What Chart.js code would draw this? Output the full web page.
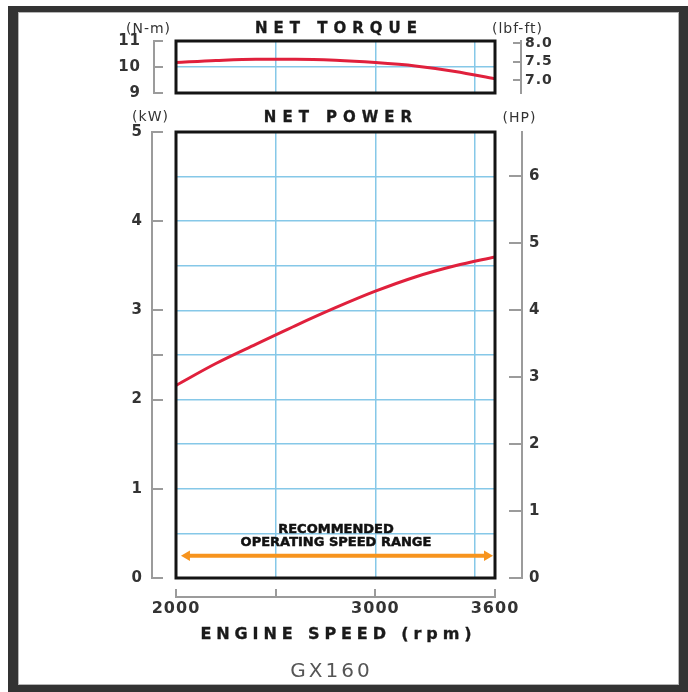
<!DOCTYPE html>
<html>
<head>
<meta charset="utf-8">
<script src="https://cdn.jsdelivr.net/npm/chart.js@4.4.1/dist/chart.umd.min.js"></script>
<style>
html,body{margin:0;padding:0;background:#fff;}
#wrap{position:relative;width:688px;height:692px;overflow:hidden;background:#fff;}
#frame{position:absolute;left:8px;top:6px;width:661px;height:673px;border-style:solid;border-color:#333;border-width:6px 9px 7px 10px;box-shadow:inset 0 0 0 1px #b5b5b5;}
canvas{position:absolute;left:0;top:0;}
.t{position:absolute;white-space:nowrap;transform:translate(-50%,-50%);font-family:'DejaVu Sans',sans-serif;color:#222;line-height:1;z-index:5;}
.title{font-weight:bold;font-size:15px;letter-spacing:6px;padding-left:6px;color:#1a1a1a;-webkit-text-stroke:0.35px #1a1a1a;}
.unit{font-size:14px;color:#333;letter-spacing:1px;padding-left:1px;}
.rec{font-weight:bold;font-size:13px;letter-spacing:0;color:#111;-webkit-text-stroke:0.5px #111;}
</style>
</head>
<body>
<div id="wrap">
  <div id="frame"></div>
  <canvas id="torque" width="688" height="692"></canvas>
  <canvas id="power" width="688" height="692"></canvas>
  <div class="t title" style="left:336px;top:28px;">NET TORQUE</div>
  <div class="t unit" style="left:148px;top:28px;">(N-m)</div>
  <div class="t unit" style="left:517px;top:28px;">(lbf-ft)</div>
  <div class="t title" style="left:338px;top:117px;">NET POWER</div>
  <div class="t unit" style="left:150px;top:116px;">(kW)</div>
  <div class="t unit" style="left:519px;top:117px;">(HP)</div>
  <div class="t rec" style="left:336px;top:528px;">RECOMMENDED</div>
  <div class="t rec" style="left:336px;top:541px;">OPERATING SPEED RANGE</div>
  <div class="t title" style="left:336px;top:634px;font-size:16px;letter-spacing:4.9px;padding-left:4.9px;">ENGINE SPEED (rpm)</div>
  <div class="t" style="left:330px;top:670px;font-size:20px;letter-spacing:3px;padding-left:3px;color:#555;">GX160</div>
</div>
<script>
// ---- data ----
const rpm = [2000, 2200, 2400, 2600, 2800, 3000, 3200, 3400, 3600];
const torqueNm = [10.17, 10.25, 10.30, 10.30, 10.26, 10.17, 10.04, 9.83, 9.55];
const powerKw = [2.16, 2.405, 2.62, 2.83, 3.03, 3.215, 3.375, 3.50, 3.60];
const rangeRpm = [2055, 3560];
const rangeKw = [0.25, 0.25];

const torqueNmTicks = [9, 10, 11];
const torqueNmGrid = [10];
const torqueLbfTicks = [7.0, 7.5, 8.0];
const torqueLbfRange = [6.646, 8.063];
const powerKwTicks = [0, 1, 2, 2.5, 3, 4, 5];
const powerKwLabels = ['0', '1', '2', '', '3', '4', '5'];
const powerKwGrid = [0, 0.5, 1, 1.5, 2, 2.5, 3, 3.5, 4, 4.5, 5];
const powerHpTicks = [0, 1, 2, 3, 4, 5, 6];
const powerHpRange = [0, 6.66];
const rpmTicks = [2000, 2500, 3000, 3600];
const rpmLabels = ['2000', '', '3000', '3600'];
const rpmGrid = [2000, 2500, 3000, 3500, 3600];

// ---- styling ----
const RED = '#e0203c';
const ORANGE = '#f7941e';
const BLUE = '#86c8e8';
const GRAY = '#9b9b9b';
const FONT = "'DejaVu Sans', sans-serif";

const plotBox = {
  id: 'plotBox',
  beforeDraw(chart) { chart.ctx.letterSpacing = '1px'; },
  afterDatasetsDraw(chart) {
    const {ctx, chartArea: a} = chart;
    ctx.save();
    ctx.strokeStyle = '#141414';
    ctx.lineWidth = 3;
    ctx.strokeRect(a.left, a.top, a.right - a.left, a.bottom - a.top);
    ctx.restore();
  }
};

const setTicks = vals => s => { s.ticks = vals.map(v => ({value: v})); };
const fixW = w => s => { s.width = w; };
const fixH = h => s => { s.height = h; };
const edgeTransparent = (lo, hi) => c => (c.tick && (c.tick.value === lo || c.tick.value === hi)) ? 'rgba(0,0,0,0)' : BLUE;

function innerGrid(min, max, pos, ticks, size, transparentEdges) {
  return {
    type: 'linear', position: pos, min, max, weight: 0,
    afterBuildTicks: setTicks(ticks),
    afterFit: (pos === 'left' || pos === 'right') ? fixW(size) : fixH(size),
    ticks: {display: false},
    grid: {color: transparentEdges ? edgeTransparent(min, max) : BLUE, lineWidth: 1.5, drawTicks: false},
    border: {display: false}
  };
}
function spacer(min, max, pos, size) {
  return {
    type: 'linear', position: pos, min, max, weight: 0,
    afterFit: (pos === 'left' || pos === 'right') ? fixW(size) : fixH(size),
    ticks: {display: false}, grid: {display: false}, border: {display: false}
  };
}
function outerAxis(min, max, pos, ticks, labels, tickLen, pad, size, fontSize) {
  return {
    type: 'linear', position: pos, min, max, weight: 1,
    afterBuildTicks: setTicks(ticks),
    afterFit: (pos === 'left' || pos === 'right') ? fixW(size) : fixH(size),
    ticks: {
      padding: pad, color: '#333', maxRotation: 0, autoSkip: false,
      font: {family: FONT, weight: 'bold', size: fontSize},
      callback: (v, i) => labels[i]
    },
    grid: {drawOnChartArea: false, color: GRAY, lineWidth: 2, tickLength: tickLen},
    border: {display: true, color: GRAY, width: 2}
  };
}
const common = {
  responsive: false, animation: false, events: [],
  plugins: {legend: {display: false}, tooltip: {enabled: false}}
};

// ---- torque chart ----
new Chart(document.getElementById('torque'), {
  type: 'line',
  data: {datasets: [{
    data: rpm.map((r, i) => ({x: r, y: torqueNm[i]})),
    borderColor: RED, borderWidth: 3, pointRadius: 0,
    cubicInterpolationMode: 'monotone', xAxisID: 'x', yAxisID: 'y'
  }]},
  options: Object.assign({}, common, {
    layout: {padding: {left: 176 - 22 - 60, right: 688 - 495 - 26 - 60, top: 41, bottom: 692 - 93}},
    scales: {
      x: innerGrid(2000, 3600, 'bottom', rpmGrid, 0, true),
      y: innerGrid(9, 11, 'left', torqueNmGrid, 22, false),
      yNm: outerAxis(9, 11, 'left', torqueNmTicks, torqueNmTicks.map(String), -9, 22, 60, 15),
      yGap: spacer(torqueLbfRange[0], torqueLbfRange[1], 'right', 26),
      yLbf: outerAxis(torqueLbfRange[0], torqueLbfRange[1], 'right', torqueLbfTicks, torqueLbfTicks.map(v => v.toFixed(1)), -8, 12, 60, 14)
    }
  }),
  plugins: [plotBox]
});

// ---- power chart ----
new Chart(document.getElementById('power'), {
  type: 'line',
  data: {datasets: [
    {
      data: rpm.map((r, i) => ({x: r, y: powerKw[i]})),
      borderColor: RED, borderWidth: 3, pointRadius: 0,
      cubicInterpolationMode: 'monotone', xAxisID: 'x', yAxisID: 'y'
    },
    {
      data: rangeRpm.map((r, i) => ({x: r, y: rangeKw[i]})),
      borderColor: ORANGE, borderWidth: 4, backgroundColor: ORANGE,
      pointStyle: 'triangle', pointRadius: 6, pointBorderWidth: 0,
      pointRotation: [270, 90], xAxisID: 'x', yAxisID: 'y'
    }
  ]},
  options: Object.assign({}, common, {
    layout: {padding: {left: 176 - 24 - 60, right: 688 - 495 - 27 - 60, top: 132, bottom: 692 - 578 - 19 - 30}},
    scales: {
      x: innerGrid(2000, 3600, 'bottom', rpmGrid, 19, true),
      xRpm: outerAxis(2000, 3600, 'bottom', rpmTicks, rpmLabels, -8, 10, 30, 16),
      y: innerGrid(0, 5, 'left', powerKwGrid, 24, true),
      yKw: outerAxis(0, 5, 'left', powerKwTicks, powerKwLabels, -11, 20, 60, 15),
      yGap: spacer(powerHpRange[0], powerHpRange[1], 'right', 27),
      yHp: outerAxis(powerHpRange[0], powerHpRange[1], 'right', powerHpTicks, powerHpTicks.map(String), -13, 20, 60, 15)
    }
  }),
  plugins: [plotBox]
});
</script>
</body>
</html>
